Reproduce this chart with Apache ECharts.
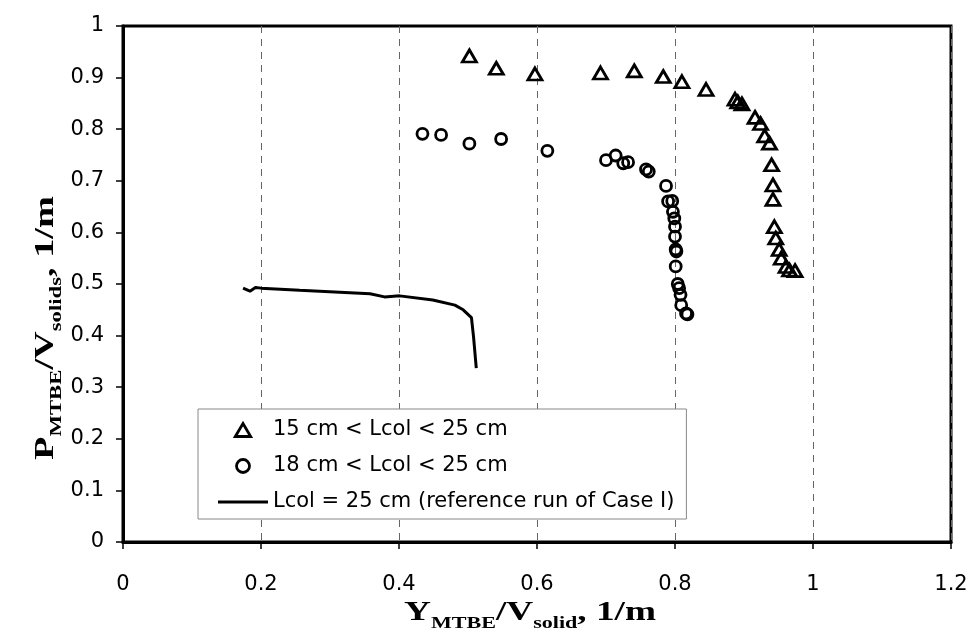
<!DOCTYPE html>
<html>
<head>
<meta charset="utf-8">
<script src="https://cdn.jsdelivr.net/npm/echarts@6/dist/echarts.min.js"></script>
<style>html,body{margin:0;padding:0;background:#fff}#c{width:972px;height:633px}</style>
</head>
<body>
<div id="c"></div>
<script>
// Series 1: 15 cm < Lcol < 25 cm  [Y_MTBE/V_solid, P_MTBE/V_solids]
const tri15 = [
  [0.502,0.942],[0.541,0.918],[0.597,0.907],[0.692,0.909],[0.741,0.913],
  [0.783,0.902],[0.810,0.892],[0.845,0.877],[0.887,0.858],[0.891,0.853],
  [0.897,0.849],[0.916,0.823],[0.924,0.811],[0.930,0.787],[0.937,0.773],
  [0.940,0.731],[0.942,0.692],[0.942,0.664],[0.944,0.611],[0.946,0.589],
  [0.951,0.567],[0.954,0.550],[0.961,0.534],[0.966,0.527],[0.974,0.526]
];
// Series 2: 18 cm < Lcol < 25 cm
const circ18 = [
  [0.434,0.791],[0.461,0.789],[0.502,0.772],[0.548,0.781],[0.615,0.758],
  [0.700,0.740],[0.714,0.749],[0.725,0.734],[0.732,0.736],[0.758,0.722],
  [0.762,0.718],[0.787,0.690],[0.790,0.660],[0.796,0.661],[0.797,0.640],
  [0.799,0.627],[0.800,0.611],[0.800,0.592],[0.801,0.567],[0.802,0.563],
  [0.801,0.534],[0.804,0.500],[0.806,0.492],[0.808,0.479],[0.809,0.459],
  [0.816,0.443],[0.818,0.441]
];
// Series 3: Lcol = 25 cm (reference run of Case I)
const ref25 = [
  [0.174,0.492],[0.184,0.486],[0.192,0.493],[0.200,0.492],[0.256,0.488],
  [0.314,0.484],[0.358,0.481],[0.379,0.475],[0.401,0.477],[0.449,0.469],
  [0.481,0.459],[0.493,0.450],[0.505,0.435],[0.508,0.398],[0.512,0.337]
];
const seriesNames = ['15 cm < Lcol < 25 cm','18 cm < Lcol < 25 cm','Lcol = 25 cm (reference run of Case I)'];
const xTicks = {min:0, max:1.2, interval:0.2};
const yTicks = {min:0, max:1, interval:0.1};
const xTitle = '{b|Y}{s|MTBE}{b|/V}{s|solid}{b|, 1/m}';
const yTitle = '{b|P}{s|MTBE}{b|/V}{s|solids}{b|, 1/m}';

const chart = echarts.init(document.getElementById('c'), null, {renderer:'canvas'});
const serif = '"Liberation Serif","Times New Roman",serif';
const sans = '"DejaVu Sans",sans-serif';
const richName = {
  b:{fontFamily:serif,fontWeight:'bold',fontSize:27,fill:'#000',color:'#000',lineHeight:32,verticalAlign:'bottom'},
  s:{fontFamily:serif,fontWeight:'bold',fontSize:16,fill:'#000',color:'#000',lineHeight:32,verticalAlign:'bottom',padding:[0,0,-5,0]}
};
const hollow = {color:'rgba(255,255,255,0)',borderColor:'#000',borderWidth:2.8,opacity:1};
chart.setOption({
  animation:false,
  backgroundColor:'#fff',
  grid:{left:123,right:21,top:26,bottom:91,show:true,borderColor:'#000',borderWidth:3,backgroundColor:'transparent'},
  xAxis:{
    type:'value',min:xTicks.min,max:xTicks.max,interval:xTicks.interval,
    axisLine:{show:true,onZero:false,lineStyle:{color:'#000',width:3}},
    axisTick:{show:true,length:7,lineStyle:{color:'#000',width:1.5}},
    axisLabel:{color:'#000',fontFamily:sans,fontSize:21,margin:32},
    splitLine:{show:true,lineStyle:{color:'#666',width:1,type:[7,6]}}
  },
  yAxis:{
    type:'value',min:yTicks.min,max:yTicks.max,interval:yTicks.interval,
    axisLine:{show:true,onZero:false,lineStyle:{color:'#000',width:3}},
    axisTick:{show:true,length:7,lineStyle:{color:'#000',width:1.5}},
    axisLabel:{color:'#000',fontFamily:sans,fontSize:21,margin:19},
    splitLine:{show:false}
  },
  graphic:[
    {type:'text',x:530,y:611,scaleX:1.38,z:10,
     style:{text:xTitle,rich:richName,x:0,y:0,align:'center',verticalAlign:'middle',textAlign:'center',textVerticalAlign:'middle'}},
    {type:'text',x:44,y:328,rotation:Math.PI/2,scaleX:1.42,z:10,
     style:{text:yTitle,rich:richName,x:0,y:0,align:'center',verticalAlign:'middle',textAlign:'center',textVerticalAlign:'middle'}}
  ],
  legend:{
    orient:'vertical',left:198,top:409,
    padding:[10,12,6,20],itemGap:14,itemWidth:50,itemHeight:13,
    backgroundColor:'#fff',borderColor:'#888',borderWidth:1,
    symbolKeepAspect:true,
    textStyle:{fontFamily:sans,fontSize:21,color:'#000',lineHeight:22},
    data:[
      {name:seriesNames[0],icon:'path://M0,11 L6.5,0 L13,11 Z',itemStyle:{color:'rgba(0,0,0,0)',borderColor:'#000',borderWidth:2.8}},
      {name:seriesNames[1],icon:'path://M0,6 A6,6 0 1,1 12,6 A6,6 0 1,1 0,6 Z',itemStyle:{color:'rgba(0,0,0,0)',borderColor:'#000',borderWidth:2.8}},
      {name:seriesNames[2],icon:'path://M0,0 L50,0 L50,3 L0,3 Z',itemStyle:{color:'#000',borderWidth:0}}
    ]
  },
  series:[
    {name:seriesNames[0],type:'scatter',data:tri15,symbol:'triangle',symbolSize:[14,12],
     itemStyle:hollow},
    {name:seriesNames[1],type:'scatter',data:circ18,symbol:'circle',symbolSize:11,
     itemStyle:hollow},
    {name:seriesNames[2],type:'line',data:ref25,symbol:'none',showSymbol:false,
     lineStyle:{color:'#000',width:3},itemStyle:{color:'#000'}}
  ]
});
</script>
</body>
</html>
